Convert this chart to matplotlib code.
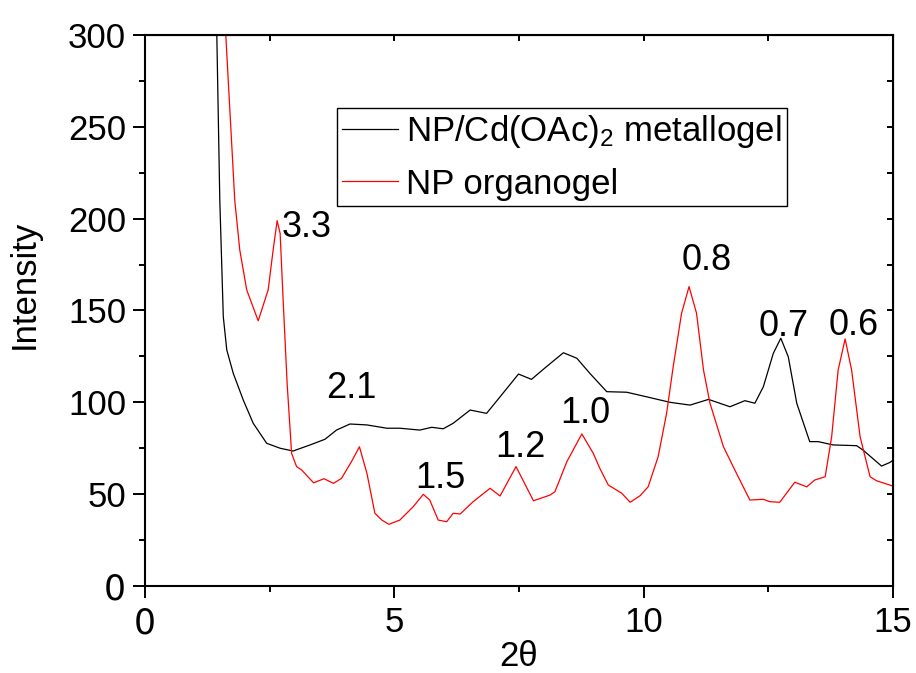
import numpy as np
import matplotlib
matplotlib.use("Agg")
import matplotlib.pyplot as plt

plt.rcParams['font.family'] = ['Liberation Sans', 'DejaVu Sans']
plt.rcParams['mathtext.fontset'] = 'custom'
plt.rcParams['mathtext.rm'] = 'Liberation Sans'
plt.rcParams['mathtext.it'] = 'Liberation Sans:italic'

# metallogel (black)
x_metal = [1.44, 1.50, 1.54, 1.57, 1.64, 1.77, 1.97, 2.17, 2.44, 2.71, 2.97, 3.31,
           3.61, 3.84, 4.11, 4.45, 4.85, 5.11, 5.51, 5.75, 5.98, 6.18, 6.52, 6.85,
           7.12, 7.49, 7.75, 8.05, 8.39, 8.66, 8.92, 9.26, 9.66, 10.06, 10.53,
           10.93, 11.30, 11.73, 12.03, 12.23, 12.40, 12.60, 12.75, 12.90, 13.07,
           13.33, 13.50, 13.80, 14.27, 14.40, 14.77, 14.94, 15.0]
y_metal = [300, 210, 173.9, 146.6, 128.5, 115.8, 101.3, 88.6, 77.7, 75, 73.5, 76.8,
           79.9, 84.9, 88.2, 87.7, 85.9, 85.9, 84.9, 86.4, 85.6, 88.6, 95.8, 94,
           103, 115.4, 112.5, 119.4, 127, 124, 115.8, 105.8, 105.5, 103, 100,
           98.5, 101.6, 97.6, 100.9, 99.5, 108.5, 126.7, 134.9, 124.8, 99.5,
           78.6, 78.6, 76.8, 76.4, 74, 65.3, 67.3, 68.5]

# organogel (red)
x_organo = [1.62, 1.80, 1.90, 2.04, 2.27, 2.47, 2.57, 2.65, 2.71, 2.77, 2.85, 2.94,
            3.04, 3.14, 3.38, 3.59, 3.78, 3.94, 4.14, 4.30, 4.45, 4.61, 4.75, 4.89,
            5.11, 5.38, 5.58, 5.71, 5.88, 6.05, 6.18, 6.32, 6.58, 6.92, 7.12, 7.44,
            7.79, 8.12, 8.22, 8.46, 8.76, 8.99, 9.12, 9.29, 9.56, 9.73, 9.93, 10.09,
            10.29, 10.46, 10.59, 10.76, 10.91, 11.06, 11.20, 11.33, 11.60, 11.86,
            12.13, 12.40, 12.53, 12.73, 13.03, 13.27, 13.43, 13.64, 13.77, 13.90,
            14.04, 14.17, 14.34, 14.54, 14.67, 15.0]
y_organo = [300, 210, 183, 161.2, 144.4, 161.2, 183, 198.9, 192, 155.7, 110.4, 72.2,
            65, 63.2, 56.2, 58.4, 55.9, 58.6, 67.7, 75.8, 61.4, 39.6, 35.9, 33.6,
            35.9, 43.2, 49.9, 46.8, 35.9, 35, 39.6, 39.2, 45.9, 53.2, 49, 65,
            46.4, 49.5, 51.3, 67.7, 82.8, 72.2, 64.1, 55, 50.5, 45.6, 49.2, 54,
            70.4, 94, 119, 148.5, 163, 148.5, 117.6, 99.5, 75.8, 61.4,
            46.8, 47.2, 45.9, 45.6, 56.5, 54, 57.7, 59.5, 81.3, 117.6,
            134.5, 117.6, 81.3, 59.5, 57.3, 54.4]

peak_labels = ['3.3', '2.1', '1.5', '1.2', '1.0', '0.8', '0.7', '0.6']
peak_x = [2.75, 3.64, 5.41, 7.02, 8.32, 10.77, 12.30, 13.70]
peak_y = [190, 102.4, 53.4, 70.4, 88.6, 172, 136.1, 136.7]

fig = plt.figure(figsize=(9.16, 6.73), dpi=100)
ax = fig.add_axes([145/916, 1-586/673, 748/916, 551/673])

ax.plot(x_metal, y_metal, color='black', lw=0.9, label='NP/Cd(OAc)$_2$ metallogel')
ax.plot(x_organo, y_organo, color='red', lw=0.9, label='NP organogel')

for lab, px, py in zip(peak_labels, peak_x, peak_y):
    ax.text(px, py, lab, fontsize=26, ha='left', va='baseline')

ax.set_xlim(0, 15)
ax.set_ylim(0, 300)
ax.set_xticks([0, 5, 10, 15])
ax.set_xticks([2.5, 7.5, 12.5], minor=True)
ax.set_yticks(np.arange(0, 301, 50))
ax.set_yticks(np.arange(25, 300, 50), minor=True)
ax.tick_params(which='major', direction='out', length=8.5, width=1.4, labelsize=25, pad=5)
ax.tick_params(which='minor', direction='out', length=4, width=1.4)
ax.tick_params(axis='x', which='major', pad=6)
for sp in ax.spines.values():
    sp.set_linewidth(1.5)

# the zero labels are drawn in a different face in the original
fig.canvas.draw()
for t in ax.get_xticklabels() + ax.get_yticklabels():
    if t.get_text() == '0':
        t.set_family('DejaVu Sans')

top = ax.secondary_xaxis('top')
top.set_xticks([0, 2.5, 5, 7.5, 10, 12.5, 15])
top.tick_params(direction='in', length=4, width=1.4, labeltop=False)
right = ax.secondary_yaxis('right')
right.set_yticks(np.arange(0, 301, 25))
right.tick_params(direction='in', length=4, width=1.4, labelright=False)

ax.set_xlabel('2θ', fontsize=25, labelpad=0)
ax.set_ylabel('Intensity', fontsize=25)
ax.yaxis.set_label_coords(-0.140, 0.548)

leg = ax.legend(loc='upper left', bbox_to_anchor=(0.2567, 0.8675), borderaxespad=0,
                fontsize=25, frameon=True, fancybox=False, framealpha=1,
                edgecolor='black', handlelength=1.6, handletextpad=0.25,
                borderpad=0.15, labelspacing=0.5)
leg.get_frame().set_linewidth(1.0)

fig.savefig('out.png', dpi=100)
